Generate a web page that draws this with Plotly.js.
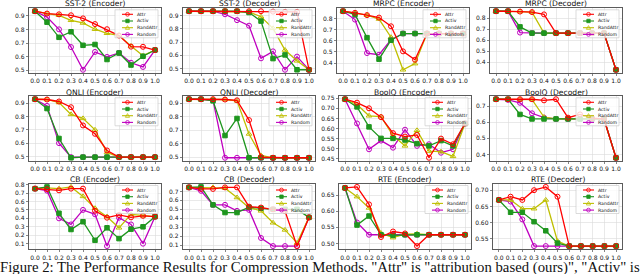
<!DOCTYPE html>
<html><head><meta charset="utf-8">
<script src="https://cdn.plot.ly/plotly-3.0.1.min.js"></script>
<style>html,body{margin:0;padding:0;background:#fff;overflow:hidden}#chart{width:640px;height:274px}</style>
</head><body><div id="chart"></div>
<script>
// Compression ratio (x axis)
const RATIOS = [0.0,0.1,0.2,0.3,0.4,0.5,0.6,0.7,0.8,0.9,1.0];
const METHODS = ["Attr","Activ","RandAttr","Random"];
const TITLES = ["SST-2 (Encoder)","SST-2 (Decoder)","MRPC (Encoder)","MRPC (Decoder)",
                "QNLI (Encoder)","QNLI (Decoder)","BoolQ (Encoder)","BoolQ (Decoder)",
                "CB (Encoder)","CB (Decoder)","RTE (Encoder)","RTE (Decoder)"];

const SST2_ENC_ATTR     = [0.935,0.918,0.912,0.905,0.882,0.840,0.802,0.755,0.673,0.672,0.648];
const SST2_ENC_ACTIV    = [0.935,0.854,0.742,0.783,0.683,0.689,0.578,0.626,0.537,0.602,0.648];
const SST2_ENC_RANDATTR = [0.935,0.917,0.905,0.868,0.848,0.802,0.772,0.757,0.678,0.606,0.648];
const SST2_ENC_RANDOM   = [0.935,0.892,0.801,0.670,0.502,0.634,0.597,0.627,0.554,0.523,0.648];

const SST2_DEC_ATTR     = [0.935,0.935,0.935,0.935,0.935,0.935,0.935,0.932,0.930,0.930,0.490];
const SST2_DEC_ACTIV    = [0.935,0.935,0.935,0.935,0.935,0.925,0.860,0.575,0.603,0.490,0.490];
const SST2_DEC_RANDATTR = [0.935,0.935,0.935,0.935,0.935,0.930,0.893,0.805,0.640,0.558,0.490];
const SST2_DEC_RANDOM   = [0.935,0.935,0.935,0.912,0.867,0.825,0.577,0.630,0.490,0.590,0.490];

const MRPC_ENC_ATTR     = [0.865,0.851,0.830,0.808,0.730,0.505,0.430,0.665,0.665,0.665,0.665];
const MRPC_ENC_ACTIV    = [0.865,0.836,0.628,0.435,0.605,0.665,0.665,0.665,0.665,0.665,0.665];
const MRPC_ENC_RANDATTR = [0.865,0.845,0.830,0.795,0.632,0.340,0.395,0.665,0.665,0.665,0.665];
const MRPC_ENC_RANDOM   = [0.865,0.790,0.490,0.475,0.610,0.665,0.665,0.665,0.665,0.665,0.665];

const MRPC_DEC_ATTR     = [0.865,0.865,0.862,0.857,0.836,0.665,0.665,0.665,0.665,0.665,0.330];
const MRPC_DEC_ACTIV    = [0.865,0.865,0.722,0.665,0.665,0.665,0.665,0.665,0.665,0.665,0.330];
const MRPC_DEC_RANDATTR = [0.865,0.865,0.862,0.857,0.665,0.665,0.665,0.665,0.665,0.665,0.330];
const MRPC_DEC_RANDOM   = [0.865,0.865,0.670,0.665,0.665,0.665,0.665,0.665,0.665,0.665,0.330];

const QNLI_ENC_ATTR     = [0.930,0.928,0.913,0.870,0.733,0.670,0.545,0.495,0.495,0.495,0.495];
const QNLI_ENC_ACTIV    = [0.930,0.860,0.635,0.490,0.495,0.495,0.495,0.495,0.495,0.495,0.495];
const QNLI_ENC_RANDATTR = [0.930,0.928,0.905,0.816,0.786,0.700,0.530,0.495,0.495,0.495,0.495];
const QNLI_ENC_RANDOM   = [0.930,0.880,0.600,0.495,0.495,0.495,0.495,0.495,0.495,0.495,0.495];

const QNLI_DEC_ATTR     = [0.930,0.930,0.930,0.928,0.922,0.775,0.500,0.495,0.495,0.495,0.495];
const QNLI_DEC_ACTIV    = [0.930,0.930,0.918,0.660,0.787,0.495,0.495,0.495,0.495,0.495,0.495];
const QNLI_DEC_RANDATTR = [0.930,0.930,0.930,0.928,0.918,0.672,0.512,0.495,0.495,0.495,0.495];
const QNLI_DEC_RANDOM   = [0.930,0.930,0.922,0.495,0.495,0.495,0.495,0.495,0.495,0.495,0.495];

const BOOLQ_ENC_ATTR     = [0.745,0.728,0.700,0.656,0.577,0.560,0.568,0.455,0.550,0.522,0.625];
const BOOLQ_ENC_ACTIV    = [0.745,0.707,0.608,0.551,0.551,0.543,0.525,0.514,0.540,0.514,0.625];
const BOOLQ_ENC_RANDATTR = [0.745,0.719,0.663,0.659,0.565,0.514,0.591,0.488,0.485,0.462,0.625];
const BOOLQ_ENC_RANDOM   = [0.745,0.625,0.497,0.540,0.505,0.594,0.514,0.522,0.480,0.497,0.625];

const BOOLQ_DEC_ATTR     = [0.742,0.742,0.742,0.742,0.735,0.742,0.628,0.648,0.625,0.620,0.380];
const BOOLQ_DEC_ACTIV    = [0.742,0.742,0.648,0.620,0.620,0.620,0.620,0.620,0.620,0.620,0.380];
const BOOLQ_DEC_RANDATTR = [0.742,0.742,0.740,0.740,0.632,0.620,0.620,0.620,0.620,0.620,0.380];
const BOOLQ_DEC_RANDOM   = [0.742,0.738,0.720,0.655,0.628,0.620,0.620,0.620,0.620,0.620,0.380];

const CB_ENC_ATTR     = [0.752,0.745,0.732,0.752,0.752,0.490,0.408,0.440,0.412,0.430,0.420];
const CB_ENC_ACTIV    = [0.752,0.772,0.460,0.268,0.360,0.140,0.288,0.160,0.272,0.300,0.420];
const CB_ENC_RANDATTR = [0.752,0.760,0.752,0.772,0.660,0.520,0.420,0.288,0.448,0.430,0.420];
const CB_ENC_RANDOM   = [0.752,0.728,0.400,0.328,0.500,0.448,0.072,0.408,0.328,0.100,0.420];

const CB_DEC_ATTR     = [0.745,0.728,0.728,0.745,0.745,0.530,0.520,0.500,0.480,0.090,0.410];
const CB_DEC_ACTIV    = [0.745,0.750,0.550,0.464,0.464,0.524,0.512,0.500,0.500,0.500,0.410];
const CB_DEC_RANDATTR = [0.745,0.745,0.745,0.737,0.632,0.520,0.483,0.350,0.270,0.125,0.410];
const CB_DEC_RANDOM   = [0.745,0.707,0.550,0.550,0.483,0.494,0.180,0.090,0.090,0.090,0.410];

const RTE_ENC_ATTR     = [0.672,0.675,0.621,0.520,0.537,0.531,0.492,0.527,0.527,0.527,0.527];
const RTE_ENC_ACTIV    = [0.672,0.557,0.585,0.527,0.525,0.527,0.527,0.527,0.527,0.527,0.527];
const RTE_ENC_RANDATTR = [0.672,0.645,0.610,0.532,0.518,0.529,0.530,0.527,0.527,0.527,0.527];
const RTE_ENC_RANDOM   = [0.672,0.565,0.527,0.527,0.527,0.527,0.527,0.527,0.527,0.527,0.527];

const RTE_DEC_ATTR     = [0.670,0.680,0.670,0.700,0.710,0.680,0.528,0.528,0.528,0.528,0.528];
const RTE_DEC_ACTIV    = [0.670,0.632,0.632,0.603,0.575,0.537,0.528,0.528,0.528,0.528,0.528];
const RTE_DEC_RANDATTR = [0.670,0.670,0.643,0.643,0.670,0.543,0.528,0.528,0.528,0.528,0.528];
const RTE_DEC_RANDOM   = [0.670,0.665,0.610,0.528,0.528,0.528,0.528,0.528,0.528,0.528,0.528];

const Y_DTICK  = [0.1,0.1,0.1,0.1, 0.1,0.1,0.05,0.1, 0.1,0.1,0.05,0.05];
const Y_FORMAT = [".1f",".1f",".1f",".1f", ".1f",".1f",".2f",".1f", ".1f",".1f",".2f",".2f"];

const SERIES = [
  [SST2_ENC_ATTR,SST2_ENC_ACTIV,SST2_ENC_RANDATTR,SST2_ENC_RANDOM],
  [SST2_DEC_ATTR,SST2_DEC_ACTIV,SST2_DEC_RANDATTR,SST2_DEC_RANDOM],
  [MRPC_ENC_ATTR,MRPC_ENC_ACTIV,MRPC_ENC_RANDATTR,MRPC_ENC_RANDOM],
  [MRPC_DEC_ATTR,MRPC_DEC_ACTIV,MRPC_DEC_RANDATTR,MRPC_DEC_RANDOM],
  [QNLI_ENC_ATTR,QNLI_ENC_ACTIV,QNLI_ENC_RANDATTR,QNLI_ENC_RANDOM],
  [QNLI_DEC_ATTR,QNLI_DEC_ACTIV,QNLI_DEC_RANDATTR,QNLI_DEC_RANDOM],
  [BOOLQ_ENC_ATTR,BOOLQ_ENC_ACTIV,BOOLQ_ENC_RANDATTR,BOOLQ_ENC_RANDOM],
  [BOOLQ_DEC_ATTR,BOOLQ_DEC_ACTIV,BOOLQ_DEC_RANDATTR,BOOLQ_DEC_RANDOM],
  [CB_ENC_ATTR,CB_ENC_ACTIV,CB_ENC_RANDATTR,CB_ENC_RANDOM],
  [CB_DEC_ATTR,CB_DEC_ACTIV,CB_DEC_RANDATTR,CB_DEC_RANDOM],
  [RTE_ENC_ATTR,RTE_ENC_ACTIV,RTE_ENC_RANDATTR,RTE_ENC_RANDOM],
  [RTE_DEC_ATTR,RTE_DEC_ACTIV,RTE_DEC_RANDATTR,RTE_DEC_RANDOM]
];

// ---- styling / layout (not data) ----
const W = 640, H = 274;
const FONT = "DejaVu Sans";
const STYLE = [
  {color:"#ff0000", symbol:"circle-open", shape:"circle", fill:false},
  {color:"#1e961e", symbol:"square", shape:"square", fill:true},
  {color:"#bfbf00", symbol:"triangle-up-open", shape:"triangle", fill:false},
  {color:"#bf00bf", symbol:"circle-open", shape:"circle", fill:false}
];
const XPX = [[29,161],[183,315],[337,469],[490,622],
             [29,161],[183,315],[339,471],[490,622],
             [29,161],[183,315],[339,471],[493,622]];
const YPX = [[8.3,72.7],[96.3,160.7],[184,249]];

const traces = [];
const layout = {
  width: W, height: H, margin:{l:0,r:0,t:0,b:0},
  paper_bgcolor:"#fff", plot_bgcolor:"#fff", showlegend:false,
  font:{family:FONT, color:"#111"}, shapes:[], annotations:[]
};

SERIES.forEach((ser, p) => {
  const s = p === 0 ? "" : String(p+1);
  const row = Math.floor(p/4);
  let lo = Infinity, hi = -Infinity;
  ser.forEach(a => a.forEach(v => { lo = Math.min(lo, v); hi = Math.max(hi, v); }));
  const pad = (hi - lo) * 0.05;
  // draw order: Random, RandAttr, Activ, Attr (Attr on top)
  [3,2,1,0].forEach(m => {
    traces.push({
      type:"scatter", mode:"lines+markers", x:RATIOS, y:ser[m], name:METHODS[m],
      xaxis:"x"+s, yaxis:"y"+s, cliponaxis:false,
      line:{color:STYLE[m].color, width:1.3},
      marker:{symbol:STYLE[m].symbol, size:STYLE[m].shape==="square"?4.5:5, color:STYLE[m].color,
              line:{color:STYLE[m].color, width:1}}
    });
  });
  const ax = {
    showgrid:true, gridcolor:"#dadada", gridwidth:0.6, zeroline:false,
    showline:true, mirror:true, linecolor:"#333", linewidth:0.8,
    ticks:"outside", ticklen:2.5, tickwidth:0.6, tickcolor:"#333", tickangle:0,
    tickfont:{size:6, family:FONT, color:"#111"}
  };
  layout["xaxis"+s] = Object.assign({}, ax, {
    domain:[XPX[p][0]/W, XPX[p][1]/W], anchor:"y"+s,
    range:[-0.05,1.05], tickmode:"array", tickvals:RATIOS, tickformat:".1f"
  });
  layout["yaxis"+s] = Object.assign({}, ax, {
    domain:[1-YPX[row][1]/H, 1-YPX[row][0]/H], anchor:"x"+s,
    range:[lo-pad, hi+pad], tick0:0, dtick:Y_DTICK[p], tickformat:Y_FORMAT[p]
  });
  const xr = "x"+s+" domain", yr = "y"+s+" domain";
  // title
  layout.annotations.push({xref:xr, yref:yr, x:0.5, y:1, yshift:-1.2, yanchor:"bottom", xanchor:"center",
    showarrow:false, borderpad:0, text:TITLES[p], font:{size:7.6, family:FONT, color:"#111"}});
  // legend box
  const base = {xref:xr, yref:yr, xsizemode:"pixel", ysizemode:"pixel", xanchor:1, yanchor:1, layer:"above"};
  layout.shapes.push(Object.assign({}, base, {type:"rect", x0:-46, x1:-3, y0:-1.5, y1:-29.5,
    fillcolor:"rgba(255,255,255,0.8)", line:{color:"#cccccc", width:0.7}}));
  METHODS.forEach((name, j) => {
    const dy = -(6 + j*6.7), cx = -33.5, st = STYLE[j];
    layout.shapes.push(Object.assign({}, base, {type:"line", x0:-39, x1:-28, y0:dy, y1:dy,
      line:{color:st.color, width:1.1}}));
    const fillc = st.fill ? st.color : "rgba(255,255,255,0)";
    if (st.shape === "circle") {
      layout.shapes.push(Object.assign({}, base, {type:"circle", x0:cx-1.9, x1:cx+1.9, y0:dy-1.9, y1:dy+1.9,
        fillcolor:fillc, line:{color:st.color, width:0.8}}));
    } else if (st.shape === "square") {
      layout.shapes.push(Object.assign({}, base, {type:"rect", x0:cx-1.7, x1:cx+1.7, y0:dy-1.7, y1:dy+1.7,
        fillcolor:fillc, line:{color:st.color, width:0.8}}));
    } else {
      layout.shapes.push(Object.assign({}, base, {type:"path",
        path:`M${cx-2.1},${dy-1.6} L${cx+2.1},${dy-1.6} L${cx},${dy+2.1} Z`,
        fillcolor:fillc, line:{color:st.color, width:0.8}}));
    }
    layout.annotations.push({xref:xr, yref:yr, x:1, y:1, xshift:-25, yshift:dy, xanchor:"left", yanchor:"middle",
      showarrow:false, text:name, font:{size:4.6, family:FONT, color:"#111"}, borderpad:0});
  });
});

// caption (partially visible at the bottom)
layout.annotations.push({xref:"paper", yref:"paper", x:-2/W, y:1-267/H, xanchor:"left", yanchor:"middle",
  showarrow:false, font:{family:"Liberation Serif", size:14.75, color:"#111"},
  text:'Figure 2: The Performance Results for Compression Methods. "Attr" is "attribution based (ours)", "Activ" is "activation based"'});

Plotly.newPlot("chart", traces, layout, {staticPlot:true, displayModeBar:false});
</script></body></html>
